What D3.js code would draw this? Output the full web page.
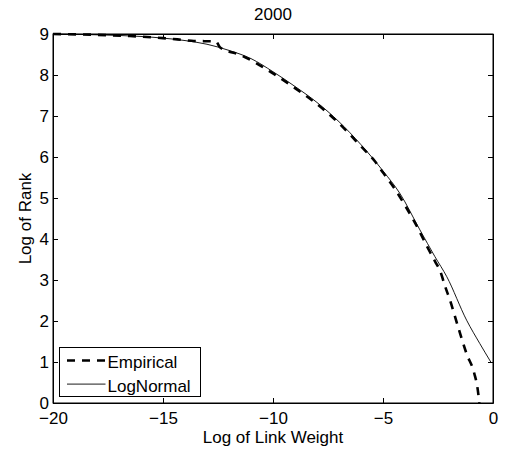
<!DOCTYPE html>
<html>
<head>
<meta charset="utf-8">
<script src="https://cdn.jsdelivr.net/npm/d3@7"></script>
<style>
  body { margin: 0; background: #fff; }
  text { font-family: "Liberation Sans", Arial, sans-serif; fill: #000; }
</style>
</head>
<body>
<div id="viz"></div>
<script>
const TITLE = "2000";
const X_LABEL = "Log of Link Weight";
const Y_LABEL = "Log of Rank";

const xTicks = [-20, -15, -10, -5, 0];
const yTicks = [0, 1, 2, 3, 4, 5, 6, 7, 8, 9];

// empirical curve (dashed)
const empiricalX = [-20, -18, -16.5, -15, -14, -13.6, -12.6, -12.4, -11.5, -11, -10, -9, -8, -7, -6, -5.36, -5, -4.5, -4, -3.5, -3, -2.6, -2.4, -2.2, -1.95, -1.6, -1.2, -0.85, -0.7, -0.62];
const empiricalY = [9.0, 8.98, 8.95, 8.9, 8.85, 8.83, 8.82, 8.67, 8.49, 8.36, 8.04, 7.68, 7.29, 6.82, 6.26, 5.89, 5.62, 5.25, 4.82, 4.35, 3.82, 3.42, 3.22, 2.88, 2.5, 1.88, 1.2, 0.72, 0.35, 0.0];

// fitted log-normal (solid)
const lognormalX = [-20, -18, -16, -15, -14, -13, -12, -11, -10, -9, -8, -7, -6, -5, -4.23, -3.32, -2.64, -2.1, -1.2, -0.6, -0.1];
const lognormalY = [9.0, 8.98, 8.94, 8.9, 8.84, 8.75, 8.6, 8.4, 8.08, 7.72, 7.33, 6.86, 6.3, 5.66, 5.11, 4.22, 3.57, 3.08, 2.02, 1.45, 1.0];

const legendNames = ["Empirical", "LogNormal"];

const width = 509, height = 457;
const margin = { top: 34, right: 16, bottom: 54, left: 53 };
const fontSize = 17;

const svg = d3.select("#viz").append("svg")
  .attr("width", width)
  .attr("height", height);

const x = d3.scaleLinear().domain([-20, 0]).range([margin.left, width - margin.right]);
const y = d3.scaleLinear().domain([0, 9]).range([height - margin.bottom, margin.top]);

const empirical = empiricalX.map((d, i) => [d, empiricalY[i]]);
const lognormal = lognormalX.map((d, i) => [d, lognormalY[i]]);

const line = d3.line()
  .x(d => x(d[0]))
  .y(d => y(d[1]))
  .curve(d3.curveMonotoneX);

// curves
svg.append("path")
  .datum(lognormal)
  .attr("fill", "none")
  .attr("stroke", "#000")
  .attr("stroke-width", 0.9)
  .attr("d", line);

svg.append("path")
  .datum(empirical)
  .attr("fill", "none")
  .attr("stroke", "#000")
  .attr("stroke-width", 2.6)
  .attr("stroke-dasharray", "8,7")
  .attr("d", line);

// axes, ticks inside, mirrored on top and right
const tickLen = 5;
svg.append("g")
  .attr("transform", `translate(0,${y(0)})`)
  .call(d3.axisBottom(x).tickValues(xTicks).tickSizeInner(-tickLen).tickSizeOuter(0).tickPadding(9).tickFormat(d => d === 0 ? "0" : "\u2212" + Math.abs(d)));
svg.append("g")
  .attr("transform", `translate(0,${y(9)})`)
  .call(d3.axisTop(x).tickValues(xTicks).tickSizeInner(-tickLen).tickSizeOuter(0).tickFormat(""));
svg.append("g")
  .attr("transform", `translate(${x(-20)},0)`)
  .call(d3.axisLeft(y).tickValues(yTicks).tickSizeInner(-tickLen).tickSizeOuter(0).tickPadding(4));
svg.append("g")
  .attr("transform", `translate(${x(0)},0)`)
  .call(d3.axisRight(y).tickValues(yTicks).tickSizeInner(-tickLen).tickSizeOuter(0).tickFormat(""));

svg.selectAll(".domain").attr("stroke", "#000").attr("stroke-width", 1);
svg.selectAll(".tick line").attr("stroke", "#000");
svg.selectAll(".tick text")
  .attr("font-family", "'Liberation Sans', Arial, sans-serif")
  .attr("font-size", fontSize)
  .attr("fill", "#000");

// box
svg.append("rect")
  .attr("x", x(-20)).attr("y", y(9))
  .attr("width", x(0) - x(-20)).attr("height", y(0) - y(9))
  .attr("fill", "none").attr("stroke", "#000").attr("stroke-width", 1);

// labels
svg.append("text")
  .attr("x", (x(-20) + x(0)) / 2).attr("y", 19.5)
  .attr("text-anchor", "middle").attr("font-size", fontSize)
  .text(TITLE);
svg.append("text")
  .attr("x", (x(-20) + x(0)) / 2).attr("y", 443)
  .attr("text-anchor", "middle").attr("font-size", fontSize)
  .text(X_LABEL);
svg.append("text")
  .attr("transform", `translate(31,${(y(0) + y(9)) / 2}) rotate(-90)`)
  .attr("text-anchor", "middle").attr("font-size", fontSize)
  .text(Y_LABEL);

// legend
const lg = svg.append("g").attr("transform", "translate(59.5,347.5)");
lg.append("rect")
  .attr("width", 141).attr("height", 49)
  .attr("fill", "#fff").attr("stroke", "#000").attr("stroke-width", 1);
legendNames.forEach((name, i) => {
  const cy = 13 + i * 23.6;
  lg.append("line")
    .attr("x1", 7.5).attr("x2", 46).attr("y1", cy).attr("y2", cy)
    .attr("stroke", "#000")
    .attr("stroke-width", i === 0 ? 2.6 : 0.9)
    .attr("stroke-dasharray", i === 0 ? "8,7" : null);
  lg.append("text")
    .attr("x", 48).attr("y", cy + 7.5)
    .attr("font-size", fontSize)
    .text(name);
});
</script>
</body>
</html>
